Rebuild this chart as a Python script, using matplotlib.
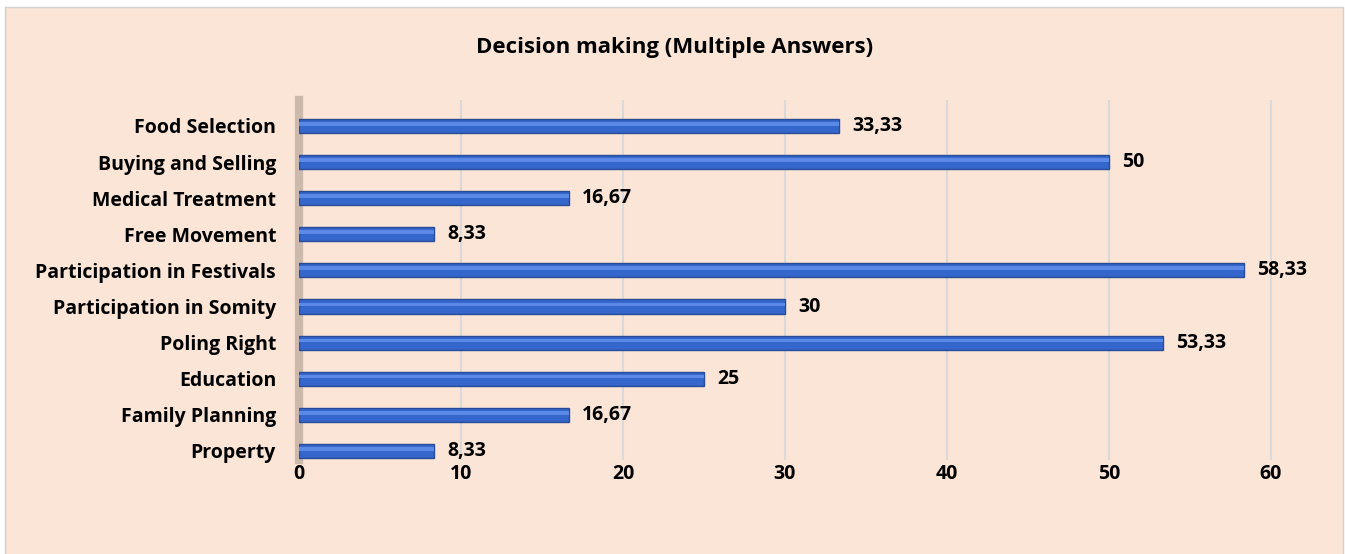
import matplotlib.pyplot as plt
from matplotlib.patches import Rectangle

categories = ["Property", "Family Planning", "Education", "Poling Right",
              "Participation in Somity", "Participation in Festivals",
              "Free Movement", "Medical Treatment", "Buying and Selling",
              "Food Selection"]
values = [8.33, 16.67, 25, 53.33, 30, 58.33, 8.33, 16.67, 50, 33.33]
xticks = [0, 10, 20, 30, 40, 50, 60]

plt.rcParams['font.family'] = ['Open Sans', 'DejaVu Sans']

W, H = 1345, 554
fig = plt.figure(figsize=(W / 100, H / 100), dpi=100)
fig.patch.set_facecolor('white')

# panel background with thin grey border, kept behind the axes
panel = Rectangle((5 / W, -0.01), (W - 7) / W, (H - 7) / H + 0.01,
                  transform=fig.transFigure, facecolor='#FBE5D6',
                  edgecolor='#D0D0D0', linewidth=1, zorder=-10)
fig.add_artist(panel)

ax = fig.add_axes([299 / W, (H - 460) / H, 988 / W, (460 - 100) / H])
ax.set_facecolor('none')
ax.set_zorder(1)

y = list(range(len(categories)))
ax.barh(y, values, height=0.39, color='#3566CC', edgecolor='#284C96',
        linewidth=1, zorder=3)
# highlight stripe for a bit of the 3D look
ax.barh([i + 0.06 for i in y], values, height=0.1, color='#5A89E6',
        linewidth=0, zorder=4)

for yi, v in zip(y, values):
    label = f"{v:g}".replace('.', ',')
    ax.text(v + 0.8, yi, label, va='center', ha='left', fontsize=14,
            fontweight='bold', color='black')

ax.set_xlim(0, 988 / 16.2)
ax.set_ylim(-0.25, 9.72)
ax.set_xticks(xticks)
ax.set_xticklabels([str(t) for t in xticks], fontsize=14, fontweight='bold')
ax.set_yticks(y)
ax.set_yticklabels(categories, fontsize=14, fontweight='bold')
ax.tick_params(axis='both', length=0)
ax.tick_params(axis='x', pad=3)
ax.tick_params(axis='y', pad=16.5)

ax.grid(axis='x', color='#D9D9D9', linewidth=1.5, zorder=0)
for s in ['top', 'right', 'bottom']:
    ax.spines[s].set_visible(False)
ax.spines['left'].set_color('#CDB8AC')
ax.spines['left'].set_linewidth(6)

fig.text(675 / W, 1 - 47 / H, "Decision making (Multiple Answers)",
         ha='center', va='center', fontsize=16, fontweight='bold')

fig.savefig('out.png', dpi=100, facecolor='white')
